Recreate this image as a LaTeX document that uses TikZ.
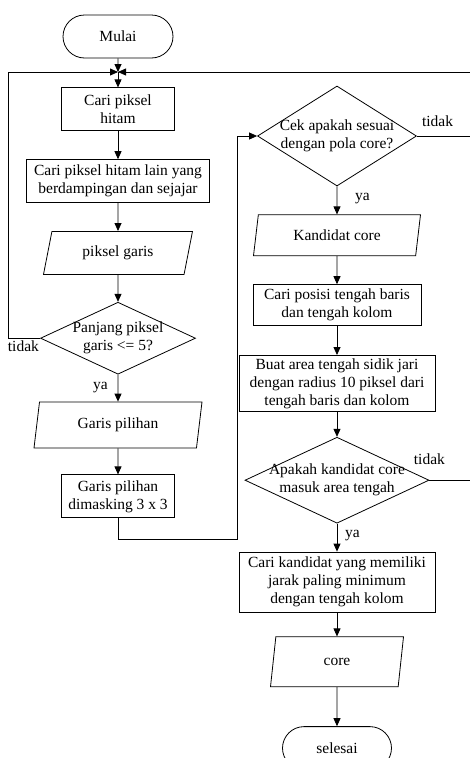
\documentclass[tikz,border=0pt]{standalone}
\usepackage{fontspec}
\setmainfont{Liberation Serif}
\usetikzlibrary{positioning, shapes.geometric, shapes.misc, arrows.meta}

\begin{document}
\begin{tikzpicture}[
    x=1pt, y=-1pt,
    font=\fontsize{15.5}{18}\selectfont,
    base/.style={draw, line width=0.8pt, align=center, inner sep=2pt},
    terminal/.style={base, rounded rectangle, minimum width=114pt, minimum height=43pt},
    process/.style={base, rectangle, minimum height=43pt},
    data/.style={base, trapezium, trapezium stretches body,
        trapezium left angle=#1, trapezium right angle=180-#1, minimum height=43pt},
    data/.default=70,
    decision/.style={base, diamond, inner sep=0pt},
    arrow/.style={-{Triangle[length=8pt, width=7pt]}, line width=0.8pt},
    line/.style={line width=0.8pt},
    cond/.style={inner sep=1pt},
]
\useasboundingbox (0,0) rectangle (470,758);
\clip (0,0) rectangle (470,758);

% ============================================
% LEFT COLUMN - Line search
% ============================================
\node[terminal] (mulai) at (118,36.5) {Mulai};
\coordinate (join) at (118,72);

\node[process, minimum width=113pt, below=29pt of mulai] (hitam) {
    Cari piksel\\hitam
};
\node[process, minimum width=183pt, below=28pt of hitam] (tetangga) {
    Cari piksel hitam lain yang\\berdampingan dan sejajar
};
\node[data=65, minimum width=149pt, below=28pt of tetangga] (garis) {piksel garis};
\node[decision, minimum width=155pt, minimum height=72pt, below=27pt of garis] (panjang) {
    \makebox[0pt]{Panjang piksel}\\\makebox[0pt]{garis <= 5?}
};
\node[data=73, minimum width=168pt, minimum height=46pt, below=27pt of panjang] (pilihan) {Garis pilihan};
\node[process, minimum width=113pt, below=26pt of pilihan] (masking) {
    Garis pilihan\\dimasking 3 x 3
};

% ============================================
% RIGHT COLUMN - Core search
% ============================================
\node[decision, minimum width=159pt, minimum height=100pt] (cek) at (337,136) {
    \makebox[0pt]{Cek apakah sesuai}\\\makebox[0pt]{dengan pola core?}
};
\node[data=72, minimum width=167pt, minimum height=41pt, below=28pt of cek] (kandidat) {Kandidat core};
\node[process, minimum width=168pt, minimum height=41pt, below=28pt of kandidat] (posisi) {
    Cari posisi tengah baris\\dan tengah kolom
};
\node[process, minimum width=196pt, minimum height=56pt, below=29pt of posisi] (area) {
    Buat area tengah sidik jari\\dengan radius 10 piksel dari\\tengah baris dan kolom
};
\node[decision, minimum width=184pt, minimum height=86pt, below=25pt of area] (apakah) {
    \makebox[0pt]{Apakah kandidat core}\\\makebox[0pt]{masuk area tengah}
};
\node[process, minimum width=196pt, minimum height=60pt, below=28pt of apakah] (jarak) {
    Cari kandidat yang memiliki\\jarak paling minimum\\dengan tengah kolom
};
\node[data=65, minimum width=133pt, minimum height=50pt, below=24pt of jarak] (core) {core};
\node[terminal, minimum width=113pt, below=39pt of core] (selesai) {selesai};

% ============================================
% ARROWS
% ============================================
\coordinate (kiri) at (8,0);
\coordinate (kanan) at (480,0);

\draw[arrow] (mulai) -- (join);
\draw[arrow] (join) -- (hitam);
\draw[arrow] (hitam) -- (tetangga);
\draw[arrow] (tetangga) -- (garis);
\draw[arrow] (garis) -- (panjang);
\draw[arrow] (panjang) -- (pilihan);
\draw[arrow] (pilihan) -- (masking);
\draw[arrow] (panjang.west) -- (panjang.west -| kiri) |- (join);
\draw[arrow] (masking.south) |- ++(119,21) |- (cek.west);

\draw[arrow] (cek) -- (kandidat);
\draw[arrow] (kandidat) -- (posisi);
\draw[arrow] (posisi) -- (area);
\draw[arrow] (area) -- (apakah);
\draw[arrow] (apakah) -- (jarak);
\draw[arrow] (jarak) -- (core);
\draw[arrow] (core) -- (selesai);
\draw[arrow] (cek.east) -- (cek.east -| kanan) |- (join);
\draw[line] (apakah.east) -- (apakah.east -| kanan);

% ============================================
% LABELS
% ============================================
\node[cond, below left=1pt and 0pt of panjang.west] {tidak};
\node[cond, below left=6pt and 9pt of panjang.south] {ya};
\node[cond, above right=8pt and 4pt of cek.east] {tidak};
\node[cond, below right=6pt and 17pt of cek.south] {ya};
\node[cond, above=14pt of apakah.east] {tidak};
\node[cond, below right=5pt and 7pt of apakah.south] {ya};

\end{tikzpicture}
\end{document}
